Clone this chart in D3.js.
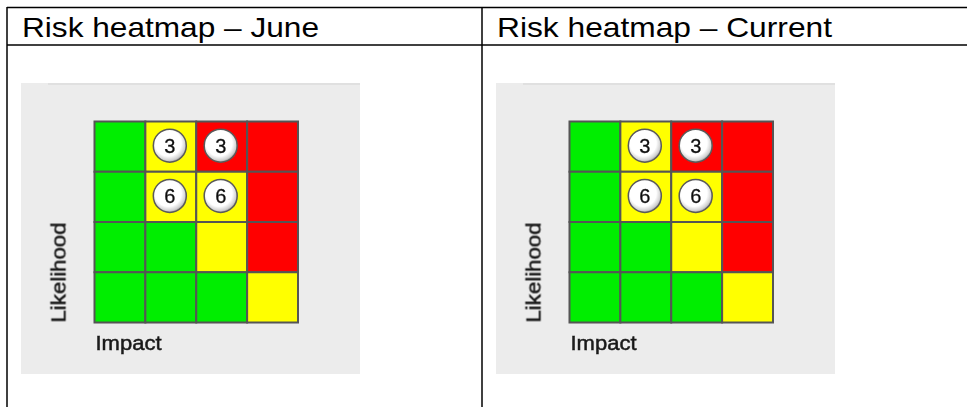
<!DOCTYPE html>
<html>
<head>
<meta charset="utf-8">
<script src="https://cdn.jsdelivr.net/npm/d3@7"></script>
<style>
  html, body { margin: 0; padding: 0; background: #fff; }
  svg { display: block; }
</style>
</head>
<body>
<svg id="chart" width="967" height="407"></svg>
<script>
// Panel titles (one table column per snapshot)
const panelTitles = ["Risk heatmap \u2013 June", "Risk heatmap \u2013 Current"];

// Axis levels: impact left to right, likelihood bottom to top
const impactLevels = [1, 2, 3, 4];
const likelihoodLevels = [4, 3, 2, 1];

// Rating of each cell, rows from highest likelihood down, columns by impact
const ratingRows = [
  ["low", "medium", "high", "high"],
  ["low", "medium", "medium", "high"],
  ["low", "low", "medium", "high"],
  ["low", "low", "low", "medium"]
];

// Risk markers placed on the grid (same in both snapshots)
const markerImpact = [2, 3, 2, 3];
const markerLikelihood = [4, 4, 3, 3];
const markerLabels = ["3", "3", "6", "6"];

const ratingColor = d3.scaleOrdinal()
  .domain(["low", "medium", "high"])
  .range(["#00ee00", "#ffff00", "#ff0000"]);

const svg = d3.select("#chart");

// Table frame
const colLeft = [7, 482];
const tableRight = 967;
const line = (x1, y1, x2, y2) => svg.append("line")
  .attr("x1", x1).attr("y1", y1).attr("x2", x2).attr("y2", y2)
  .attr("stroke", "#000").attr("stroke-width", 1.5);
line(colLeft[0], 7.5, tableRight, 7.5);
line(colLeft[0], 45, tableRight, 45);
colLeft.forEach(x => line(x, 7, x, 407));

// Soft shading for the marker discs
const defs = svg.append("defs");
const grad = defs.append("radialGradient").attr("id", "disc")
  .attr("cx", "45%").attr("cy", "42%").attr("r", "60%");
grad.append("stop").attr("offset", "0%").attr("stop-color", "#ffffff");
grad.append("stop").attr("offset", "66%").attr("stop-color", "#ffffff");
grad.append("stop").attr("offset", "88%").attr("stop-color", "#d0d0d0");
grad.append("stop").attr("offset", "100%").attr("stop-color", "#8a8a8a");
defs.append("filter").attr("id", "soft")
  .append("feGaussianBlur").attr("stdDeviation", 0.45);

const cells = [];
ratingRows.forEach((row, r) => row.forEach((rating, c) => {
  cells.push({ impact: impactLevels[c], likelihood: likelihoodLevels[r], rating });
}));
const markers = markerLabels.map((label, i) => ({
  impact: markerImpact[i], likelihood: markerLikelihood[i], label
}));

panelTitles.forEach((title, p) => {
  const x0 = colLeft[p];

  svg.append("text")
    .attr("x", x0 + 15).attr("y", 37)
    .attr("font-family", "'Liberation Sans', Arial, sans-serif")
    .attr("font-size", 28.5)
    .attr("textLength", p === 0 ? 297 : 335)
    .attr("lengthAdjust", "spacingAndGlyphs")
    .attr("fill", "#000")
    .text(title);

  // Grey panel behind the heatmap
  const panelX = x0 + 14, panelY = 83;
  const panel = svg.append("g").attr("transform", `translate(${panelX},${panelY})`);
  panel.append("rect").attr("width", 339).attr("height", 291).attr("fill", "#ececec");
  panel.append("rect").attr("x", 27).attr("width", 312).attr("height", 2).attr("fill", "#e0e0e0");

  const gridX = panelX + 73.5, gridY = 121.5;
  const x = d3.scaleBand().domain(impactLevels).range([0, 203.5]);
  const y = d3.scaleBand().domain(likelihoodLevels).range([0, 201]);

  const g = svg.append("g").attr("transform", `translate(${gridX},${gridY})`);
  const inner = g.append("g").attr("filter", "url(#soft)");

  inner.selectAll("rect.cell").data(cells).join("rect")
    .attr("class", "cell")
    .attr("x", d => x(d.impact)).attr("y", d => y(d.likelihood))
    .attr("width", x.bandwidth()).attr("height", y.bandwidth())
    .attr("fill", d => ratingColor(d.rating))
    .attr("stroke", "#555").attr("stroke-width", 2);

  const m = inner.selectAll("g.marker").data(markers).join("g")
    .attr("class", "marker")
    .attr("transform", d => `translate(${x(d.impact) + x.bandwidth() / 2 - 1},${y(d.likelihood) + y.bandwidth() / 2 - 1})`);
  m.append("circle").attr("r", 16.5)
    .attr("fill", "url(#disc)").attr("stroke", "#5a5a5a").attr("stroke-width", 1.5);
  m.append("text")
    .attr("text-anchor", "middle").attr("dy", "0.36em")
    .attr("font-family", "'Liberation Sans', Arial, sans-serif")
    .attr("font-size", 20).attr("fill", "#111")
    .attr("stroke", "#111").attr("stroke-width", 0.3)
    .text(d => d.label);

  // Axis titles
  svg.append("text")
    .attr("transform", `translate(${gridX - 29},${gridY + 201}) rotate(-90)`)
    .attr("font-family", "'Liberation Sans', Arial, sans-serif")
    .attr("font-size", 20.5).attr("fill", "#1a1a1a")
    .attr("stroke", "#1a1a1a").attr("stroke-width", 0.5)
    .attr("textLength", 100).attr("lengthAdjust", "spacingAndGlyphs")
    .attr("filter", "url(#soft)")
    .text("Likelihood");
  svg.append("text")
    .attr("x", gridX + 1).attr("y", gridY + 228.5)
    .attr("font-family", "'Liberation Sans', Arial, sans-serif")
    .attr("font-size", 20.5).attr("fill", "#1a1a1a")
    .attr("stroke", "#1a1a1a").attr("stroke-width", 0.5)
    .attr("textLength", 66).attr("lengthAdjust", "spacingAndGlyphs")
    .attr("filter", "url(#soft)")
    .text("Impact");
});
</script>
</body>
</html>
